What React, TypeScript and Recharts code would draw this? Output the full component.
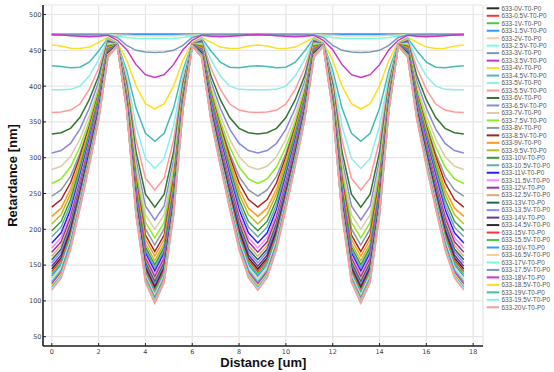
import React from 'react';
import { LineChart, Line, XAxis, YAxis, CartesianGrid, Legend } from 'recharts';

// sample positions along the cell [um]
const distance = [0, 0.4, 0.8, 1.2, 1.6, 2, 2.4, 2.8, 3.2, 3.6, 4, 4.4, 4.8, 5.2, 5.6, 6, 6.4, 6.8, 7.2, 7.6, 8, 8.4, 8.8, 9.2, 9.6, 10, 10.4, 10.8, 11.2, 11.6, 12, 12.4, 12.8, 13.2, 13.6, 14, 14.4, 14.8, 15.2, 15.6, 16, 16.4, 16.8, 17.2, 17.6];

const voltages = [0, 0.5, 1, 1.5, 2, 2.5, 3, 3.5, 4, 4.5, 5, 5.5, 6, 6.5, 7, 7.5, 8, 8.5, 9, 9.5, 10, 10.5, 11, 11.5, 12, 12.5, 13, 13.5, 14, 14.5, 15, 15.5, 16, 16.5, 17, 17.5, 18, 18.5, 19, 19.5, 20];

const xTicks = [0, 2, 4, 6, 8, 10, 12, 14, 16, 18];
const yTicks = [50, 100, 150, 200, 250, 300, 350, 400, 450, 500];

// retardance [nm] per voltage
const v00 = [472,472,472,472,472,472,472,472,472,472,472,472,472,472,472,472,472,472,472,472,472,472,472,472,472,472,472,472,472,472,472,472,472,472,472,472,472,472,472,472,472,472,472,472,472];
const v05 = [472,472,472,472,472,472,472,472,472,472,472,472,472,472,472,472,472,472,472,472,472,472,472,472,472,472,472,472,472,472,472,472,472,472,472,472,472,472,472,472,472,472,472,472,472];
const v10 = [472,472,472,472,472,472,472,472,472,472,472,472,472,472,472,472,472,472,472,472,472,472,472,472,472,472,472,472,472,472,472,472,472,472,472,472,472,472,472,472,472,472,472,472,472];
const v15 = [472,472,472,472,472,472,472,472,472,472,472,472,472,472,472,472,472,472,472,472,472,472,472,472,472,472,472,472,472,472,472,472,472,472,472,472,472,472,472,472,472,472,472,472,472];
const v20 = [472,472,472,472,472,472,472,471.5,471,470.5,470.5,470.5,470.5,470.5,471,471.5,472,472,472,472,472,472,472,472,472,472,472,472,472,471.5,471,470.5,470.5,470.5,470.5,470.5,471,471.5,472,472,472,472,472,472,472];
const v25 = [472,472,472,472,472,472,472,470,468,467,466.5,466.5,466.5,467,468,470,472,472,472,472,472,472,472,472,472,472,472,472,472,470,468,467,466.5,466.5,466.5,467,468,470,472,472,472,472,472,472,472];
const v30 = [472,472,472,472,472,472,471.5,468,457,450,447.5,447,447.5,450,457,468,471.5,472,472,472,472,472,472,472,472,472,472,472,471.5,468,457,450,447.5,447,447.5,450,457,468,471.5,472,472,472,472,472,472];
const v35 = [472,471.5,470.5,469.5,469,469.5,471,464,451,430,416,412,416,430,451,464,471,469.5,469,469.5,470.5,471.5,472,471.5,470.5,469.5,469,469.5,471,464,451,430,416,412,416,430,451,464,471,469.5,469,469.5,470.5,471.5,472];
const v40 = [457.5,456,453,452.5,454.5,461,468,461,436,400,375.5,368,375.5,400,436,461,468,461,454.5,452.5,453,456,457.5,456,453,452.5,454.5,461,468,461,436,400,375.5,368,375.5,400,436,461,468,461,454.5,452.5,453,456,457.5];
const v45 = [428.5,427.5,425.5,426.5,433.5,449,467,459.5,422,369,334,323,334,369,422,459.5,467,449,433.5,426.5,425.5,427.5,428.5,427.5,425.5,426.5,433.5,449,467,459.5,422,369,334,323,334,369,422,459.5,467,449,433.5,426.5,425.5,427.5,428.5];
const v50 = [395,395,395.5,400,414,437,466,458.5,415,344,299,285,299,344,415,458.5,466,437,414,400,395.5,395,395,395,395.5,400,414,437,466,458.5,415,344,299,285,299,344,415,458.5,466,437,414,400,395.5,395,395];
const v55 = [363,364,366.5,375,395.5,425,465,458.5,407.5,324,271.5,255,271.5,324,407.5,458.5,465,425,395.5,375,366.5,364,363,364,366.5,375,395.5,425,465,458.5,407.5,324,271.5,255,271.5,324,407.5,458.5,465,425,395.5,375,366.5,364,363];
const v60 = [333,335,341,356,381,414,463,458.5,402,308,249,231,249,308,402,458.5,463,414,381,356,341,335,333,335,341,356,381,414,463,458.5,402,308,249,231,249,308,402,458.5,463,414,381,356,341,335,333];
const v65 = [306.5,310,320,340,369,406,461,458.5,397,296.5,232.5,213,232.5,296.5,397,458.5,461,406,369,340,320,310,306.5,310,320,340,369,406,461,458.5,397,296.5,232.5,213,232.5,296.5,397,458.5,461,406,369,340,320,310,306.5];
const v70 = [283.5,288,301.5,326,359,399,459,458.5,394,288,220.5,200,220.5,288,394,458.5,459,399,359,326,301.5,288,283.5,288,301.5,326,359,399,459,458.5,394,288,220.5,200,220.5,288,394,458.5,459,399,359,326,301.5,288,283.5];
const v75 = [264,270.5,287,315,351,394.5,457.5,458,390.5,280,209.5,188,209.5,280,390.5,458,457.5,394.5,351,315,287,270.5,264,270.5,287,315,351,394.5,457.5,458,390.5,280,209.5,188,209.5,280,390.5,458,457.5,394.5,351,315,287,270.5,264];
const v80 = [246.5,255,274,306,345,390.5,456,458,388,273,200.5,178,200.5,273,388,458,456,390.5,345,306,274,255,246.5,255,274,306,345,390.5,456,458,388,273,200.5,178,200.5,273,388,458,456,390.5,345,306,274,255,246.5];
const v85 = [231,241.5,265,301.5,343,389,455,458,385.5,267.5,192,169,192,267.5,385.5,458,455,389,343,301.5,265,241.5,231,241.5,265,301.5,343,389,455,458,385.5,267.5,192,169,192,267.5,385.5,458,455,389,343,301.5,265,241.5,231];
const v90 = [218,229.5,256,296,339.5,387,454,458,384,263,186,162.5,186,263,384,458,454,387,339.5,296,256,229.5,218,229.5,256,296,339.5,387,454,458,384,263,186,162.5,186,263,384,458,454,387,339.5,296,256,229.5,218];
const v95 = [207.5,220.5,249.5,292.5,338,386,453,457.5,382,258.5,180,156,180,258.5,382,457.5,453,386,338,292.5,249.5,220.5,207.5,220.5,249.5,292.5,338,386,453,457.5,382,258.5,180,156,180,258.5,382,457.5,453,386,338,292.5,249.5,220.5,207.5];
const v100 = [198,211,241.5,286,333,383,452,457.5,380.5,255,175,150.5,175,255,380.5,457.5,452,383,333,286,241.5,211,198,211,241.5,286,333,383,452,457.5,380.5,255,175,150.5,175,255,380.5,457.5,452,383,333,286,241.5,211,198];
const v105 = [189.5,203,234.5,280,328.5,380,451,457.5,379.5,252,171,146,171,252,379.5,457.5,451,380,328.5,280,234.5,203,189.5,203,234.5,280,328.5,380,451,457.5,379.5,252,171,146,171,252,379.5,457.5,451,380,328.5,280,234.5,203,189.5];
const v110 = [181,195,227.5,274.5,324.5,377,450.5,457.5,378.5,249,167,141.5,167,249,378.5,457.5,450.5,377,324.5,274.5,227.5,195,181,195,227.5,274.5,324.5,377,450.5,457.5,378.5,249,167,141.5,167,249,378.5,457.5,450.5,377,324.5,274.5,227.5,195,181];
const v115 = [174,188.5,221.5,270,321,375,450,457,377,246,163,137.5,163,246,377,457,450,375,321,270,221.5,188.5,174,188.5,221.5,270,321,375,450,457,377,246,163,137.5,163,246,377,457,450,375,321,270,221.5,188.5,174];
const v120 = [168,182.5,216.5,265.5,317.5,372.5,449,457,376,243.5,159.5,133.5,159.5,243.5,376,457,449,372.5,317.5,265.5,216.5,182.5,168,182.5,216.5,265.5,317.5,372.5,449,457,376,243.5,159.5,133.5,159.5,243.5,376,457,449,372.5,317.5,265.5,216.5,182.5,168];
const v125 = [162.5,177.5,211.5,261.5,314.5,370.5,448.5,457,375,241,156,130,156,241,375,457,448.5,370.5,314.5,261.5,211.5,177.5,162.5,177.5,211.5,261.5,314.5,370.5,448.5,457,375,241,156,130,156,241,375,457,448.5,370.5,314.5,261.5,211.5,177.5,162.5];
const v130 = [157.5,172.5,207.5,258.5,312,369,448,457,374.5,239,153,126.5,153,239,374.5,457,448,369,312,258.5,207.5,172.5,157.5,172.5,207.5,258.5,312,369,448,457,374.5,239,153,126.5,153,239,374.5,457,448,369,312,258.5,207.5,172.5,157.5];
const v135 = [153,168.5,203.5,255,309.5,367,447,457,373.5,237,150,123.5,150,237,373.5,457,447,367,309.5,255,203.5,168.5,153,168.5,203.5,255,309.5,367,447,457,373.5,237,150,123.5,150,237,373.5,457,447,367,309.5,255,203.5,168.5,153];
const v140 = [148.5,164,200,252,307,365.5,446.5,457,373,235,147.5,120.5,147.5,235,373,457,446.5,365.5,307,252,200,164,148.5,164,200,252,307,365.5,446.5,457,373,235,147.5,120.5,147.5,235,373,457,446.5,365.5,307,252,200,164,148.5];
const v145 = [144.5,160,196.5,249,305,364,446,456.5,372,233,145,118,145,233,372,456.5,446,364,305,249,196.5,160,144.5,160,196.5,249,305,364,446,456.5,372,233,145,118,145,233,372,456.5,446,364,305,249,196.5,160,144.5];
const v150 = [141,157,193.5,246.5,302.5,362.5,445,456.5,371,231.5,143,115.5,143,231.5,371,456.5,445,362.5,302.5,246.5,193.5,157,141,157,193.5,246.5,302.5,362.5,445,456.5,371,231.5,143,115.5,143,231.5,371,456.5,445,362.5,302.5,246.5,193.5,157,141];
const v155 = [137.5,153.5,190.5,244,301,361,444.5,456.5,370.5,230,140.5,113,140.5,230,370.5,456.5,444.5,361,301,244,190.5,153.5,137.5,153.5,190.5,244,301,361,444.5,456.5,370.5,230,140.5,113,140.5,230,370.5,456.5,444.5,361,301,244,190.5,153.5,137.5];
const v160 = [134.5,150.5,187.5,242,299,360,444,456.5,370,228,138,110.5,138,228,370,456.5,444,360,299,242,187.5,150.5,134.5,150.5,187.5,242,299,360,444,456.5,370,228,138,110.5,138,228,370,456.5,444,360,299,242,187.5,150.5,134.5];
const v165 = [131.5,147.5,185,240,297.5,358.5,443.5,456.5,369.5,227,136.5,108.5,136.5,227,369.5,456.5,443.5,358.5,297.5,240,185,147.5,131.5,147.5,185,240,297.5,358.5,443.5,456.5,369.5,227,136.5,108.5,136.5,227,369.5,456.5,443.5,358.5,297.5,240,185,147.5,131.5];
const v170 = [128.5,145,182.5,237.5,296,357.5,443,456.5,369,225.5,134.5,106.5,134.5,225.5,369,456.5,443,357.5,296,237.5,182.5,145,128.5,145,182.5,237.5,296,357.5,443,456.5,369,225.5,134.5,106.5,134.5,225.5,369,456.5,443,357.5,296,237.5,182.5,145,128.5];
const v175 = [126,142.5,180.5,236,294.5,356.5,442.5,456,368,224,132.5,104.5,132.5,224,368,456,442.5,356.5,294.5,236,180.5,142.5,126,142.5,180.5,236,294.5,356.5,442.5,456,368,224,132.5,104.5,132.5,224,368,456,442.5,356.5,294.5,236,180.5,142.5,126];
const v180 = [123.5,140,178.5,234,293,355.5,442,456,367.5,222.5,131,102.5,131,222.5,367.5,456,442,355.5,293,234,178.5,140,123.5,140,178.5,234,293,355.5,442,456,367.5,222.5,131,102.5,131,222.5,367.5,456,442,355.5,293,234,178.5,140,123.5];
const v185 = [121,137.5,176,232,291.5,354.5,441.5,456,367,221.5,129.5,101,129.5,221.5,367,456,441.5,354.5,291.5,232,176,137.5,121,137.5,176,232,291.5,354.5,441.5,456,367,221.5,129.5,101,129.5,221.5,367,456,441.5,354.5,291.5,232,176,137.5,121];
const v190 = [119,135.5,174.5,230.5,290.5,353.5,441,456,366.5,220.5,128,99.5,128,220.5,366.5,456,441,353.5,290.5,230.5,174.5,135.5,119,135.5,174.5,230.5,290.5,353.5,441,456,366.5,220.5,128,99.5,128,220.5,366.5,456,441,353.5,290.5,230.5,174.5,135.5,119];
const v195 = [117,134,172.5,229.5,289,352.5,440.5,456,366,219.5,126.5,98,126.5,219.5,366,456,440.5,352.5,289,229.5,172.5,134,117,134,172.5,229.5,289,352.5,440.5,456,366,219.5,126.5,98,126.5,219.5,366,456,440.5,352.5,289,229.5,172.5,134,117];
const v200 = [115,132,171,228,288,351.5,440,456,365.5,218.5,125.5,96.5,125.5,218.5,365.5,456,440,351.5,288,228,171,132,115,132,171,228,288,351.5,440,456,365.5,218.5,125.5,96.5,125.5,218.5,365.5,456,440,351.5,288,228,171,132,115];

const retardance = [v00, v05, v10, v15, v20, v25, v30, v35, v40, v45, v50, v55, v60, v65, v70, v75, v80, v85, v90, v95, v100, v105, v110, v115, v120, v125, v130, v135, v140, v145, v150, v155, v160, v165, v170, v175, v180, v185, v190, v195, v200];

// line colours cycle through this list
const palette = [
  '#2b2b2b', '#ff3333', '#44cc44', '#3399ff', '#ffcc99', '#77ffdd', '#7799bb', '#cc33cc',
  '#ffdd22', '#44bbbb', '#88eeee', '#ff9999', '#337733', '#8888dd', '#ddccaa', '#88ee22',
  '#8899aa', '#aa2222', '#ff9922', '#bbbb22', '#339933', '#66aaaa', '#2222ff', '#ff88ff',
  '#993399', '#ddaa66', '#226655', '#8888ff', '#663399',
];

const rows = distance.map((d, i) => {
  const row: Record<string, number> = { d };
  retardance.forEach((arr, k) => {
    row['s' + k] = arr[i];
  });
  return row;
});

const labelFor = (v: number) => `633-${v}V-T0-P0`;
const colorFor = (k: number) => palette[k % palette.length];

const AXIS = '#222';
const tickFont = { fontFamily: '"DejaVu Sans", sans-serif', fontSize: 6.5, fill: '#444' };

const BottomTick = (props: any) => {
  const { x, y, payload } = props;
  return (
    <g>
      <line x1={x} x2={x} y1={y} y2={y - 3} stroke={AXIS} strokeWidth={1} />
      <text x={x} y={y + 8} textAnchor="middle" {...tickFont}>{payload.value}</text>
    </g>
  );
};

const LeftTick = (props: any) => {
  const { x, y, payload } = props;
  return (
    <g>
      <line x1={x} x2={x + 3} y1={y} y2={y} stroke={AXIS} strokeWidth={1} />
      <text x={x - 1.5} y={y + 2.4} textAnchor="end" {...tickFont}>{payload.value}</text>
    </g>
  );
};

const TopTick = (props: any) => {
  const { x, y } = props;
  return <line x1={x} x2={x} y1={y} y2={y + 3} stroke={AXIS} strokeWidth={1} />;
};

const RightTick = (props: any) => {
  const { x, y } = props;
  return <line x1={x} x2={x - 3} y1={y} y2={y} stroke={AXIS} strokeWidth={1} />;
};

const titleFont = { fontFamily: '"Liberation Sans", Arial, sans-serif', fontSize: 13, fontWeight: 700, fill: '#111' };

const LegendBox = () => (
  <div style={{ width: 71, height: 372 }}>
    <svg width={71} height={372}>
      {voltages.map((v, k) => {
        const cy = 8.3 + k * 7.475;
        return (
          <g key={k}>
            <line x1={3.7} x2={16.3} y1={cy} y2={cy} stroke={colorFor(k)} strokeWidth={2} />
            <text x={18.5} y={cy + 2.3} fontFamily='"Liberation Sans", Arial, sans-serif' fontSize={6.4} fill="#555">
              {labelFor(v)}
            </text>
          </g>
        );
      })}
    </svg>
  </div>
);

export default function App() {
  return (
    <div style={{ position: 'absolute', left: 0, top: 0, width: 554, height: 372, background: '#fff' }}>
      <LineChart width={554} height={372} data={rows} margin={{ top: 5, right: 0, bottom: 10, left: 8 }}>
        <CartesianGrid stroke="#e6e6e6" strokeWidth={1.2} />
        <XAxis
          dataKey="d"
          type="number"
          domain={[-0.376, 18.42]}
          ticks={xTicks}
          interval={0}
          height={16}
          tickSize={0}
          tickMargin={0}
          tickLine={false}
          axisLine={{ stroke: AXIS, strokeWidth: 1.6 }}
          tick={BottomTick}
          label={() => (
            <text x={263.3} y={366.6} textAnchor="middle" {...titleFont}>Distance [um]</text>
          )}
        />
        <XAxis
          xAxisId="t"
          orientation="top"
          type="number"
          domain={[-0.376, 18.42]}
          ticks={xTicks}
          interval={0}
          height={0}
          tickSize={0}
          tickMargin={0}
          tickLine={false}
          axisLine={{ stroke: AXIS, strokeWidth: 1.6 }}
          tick={TopTick}
        />
        <YAxis
          type="number"
          domain={[37, 513.3]}
          ticks={yTicks}
          interval={0}
          width={35}
          tickSize={0}
          tickMargin={0}
          tickLine={false}
          axisLine={{ stroke: AXIS, strokeWidth: 1.6 }}
          tick={LeftTick}
          label={() => (
            <text transform="translate(17.4, 175.5) rotate(-90)" x={0} y={0} textAnchor="middle" {...titleFont}>
              Retardance [nm]
            </text>
          )}
        />
        <YAxis
          yAxisId="r"
          orientation="right"
          type="number"
          domain={[37, 513.3]}
          ticks={yTicks}
          interval={0}
          width={0}
          tickSize={0}
          tickMargin={0}
          tickLine={false}
          axisLine={{ stroke: AXIS, strokeWidth: 1.6 }}
          tick={RightTick}
        />
        <Legend
          layout="vertical"
          align="right"
          verticalAlign="top"
          wrapperStyle={{ top: 0 }}
          content={() => <LegendBox />}
        />
        {voltages.map((v, k) => (
          <Line
            key={k}
            type="linear"
            dataKey={'s' + k}
            name={labelFor(v)}
            stroke={colorFor(k)}
            strokeWidth={1.5}
            dot={false}
            isAnimationActive={false}
          />
        ))}
      </LineChart>
    </div>
  );
}
